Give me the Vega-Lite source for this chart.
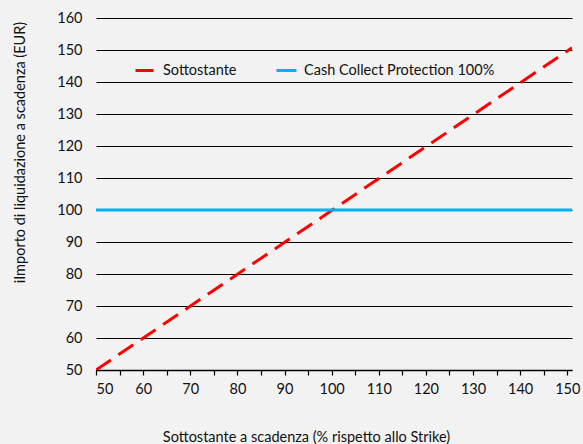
{
  "$schema": "https://vega.github.io/schema/vega-lite/v6.json",
  "width": 476,
  "height": 352,
  "autosize": "none",
  "padding": {"left": 96, "top": 18, "right": 11, "bottom": 74},
  "background": "#f2f2f2",
  "config": {
    "view": {"stroke": null},
    "font": "Lato",
    "axis": {"labelFont": "Lato", "titleFont": "Lato", "labelColor": "#111111", "titleColor": "#111111", "titleFontWeight": "normal"},
    "legend": {"labelFont": "Lato"}
  },
  "data": {
    "values": [
      {"x": 50, "y": 50, "series": "Sottostante"},
      {"x": 151, "y": 150.7, "series": "Sottostante"},
      {"x": 50, "y": 100, "series": "Cash Collect Protection 100%"},
      {"x": 151, "y": 100, "series": "Cash Collect Protection 100%"}
    ]
  },
  "mark": {"type": "line", "strokeWidth": 3, "clip": true},
  "encoding": {
    "x": {
      "field": "x",
      "type": "quantitative",
      "scale": {"domain": [50, 151], "nice": false, "zero": false},
      "axis": {
        "values": [50, 55, 60, 65, 70, 75, 80, 85, 90, 95, 100, 105, 110, 115, 120, 125, 130, 135, 140, 145, 150],
        "labelExpr": "datum.value % 10 == 0 ? datum.label : ''",
        "grid": false,
        "domainColor": "#000000",
        "domainWidth": 1.5,
        "tickColor": "#000000",
        "tickSize": 5,
        "tickWidth": 1.2,
        "labelFontSize": 14.5,
        "labelPadding": 7,
        "labelOverlap": false,
        "title": "Sottostante a scadenza (% rispetto allo Strike)",
        "titleFontSize": 14.5,
        "titleX": 210,
        "titleY": 67,
        "titleBaseline": "middle",
        "titleAnchor": null
      }
    },
    "y": {
      "field": "y",
      "type": "quantitative",
      "scale": {"domain": [50, 160], "nice": false, "zero": false},
      "axis": {
        "values": [50, 60, 70, 80, 90, 100, 110, 120, 130, 140, 150, 160],
        "grid": true,
        "gridColor": "#000000",
        "gridWidth": 1,
        "domain": false,
        "ticks": false,
        "labelFontSize": 14.5,
        "labelPadding": 14,
        "title": "iImporto di liquidazione a scadenza  (EUR)",
        "titleFontSize": 14.5,
        "titleAngle": -90,
        "titleX": -76,
        "titleY": 134,
        "titleAlign": "center",
        "titleBaseline": "middle"
      }
    },
    "color": {
      "field": "series",
      "type": "nominal",
      "scale": {"domain": ["Sottostante", "Cash Collect Protection 100%"], "range": ["#ff0000", "#00b0f0"]},
      "legend": {
        "title": null,
        "orient": "none",
        "legendX": 38,
        "legendY": 41,
        "direction": "horizontal",
        "columns": 2,
        "columnPadding": 33,
        "symbolType": "stroke",
        "symbolSize": 400,
        "symbolStrokeWidth": 3,
        "labelFontSize": 14.5,
        "labelColor": "#111111",
        "labelOffset": 6,
        "labelLimit": 400
      }
    },
    "strokeDash": {
      "field": "series",
      "type": "nominal",
      "scale": {"domain": ["Sottostante", "Cash Collect Protection 100%"], "range": [[18, 9], [1, 0]]},
      "legend": null
    },
    "order": {"field": "x", "type": "quantitative"}
  }
}
